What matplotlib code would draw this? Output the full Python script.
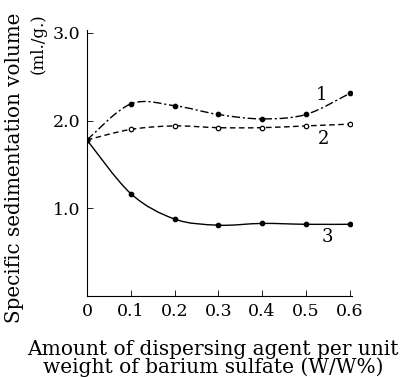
import numpy as np
import matplotlib
matplotlib.use("Agg")
import matplotlib.pyplot as plt
from matplotlib.path import Path
from matplotlib.patches import PathPatch

# values
amount = [0.0, 0.1, 0.2, 0.3, 0.4, 0.5, 0.6]
curve1 = [1.78, 2.19, 2.17, 2.07, 2.02, 2.07, 2.31]
curve2 = [1.78, 1.90, 1.94, 1.92, 1.92, 1.94, 1.96]
curve3 = [1.78, 1.17, 0.88, 0.81, 0.83, 0.82, 0.82]
curve_names = ["1", "2", "3"]
name_pos = [(0.535, 2.29), (0.54, 1.79), (0.55, 0.67)]
xticks = [0, 0.1, 0.2, 0.3, 0.4, 0.5, 0.6]
xticklabels = ["0", "0.1", "0.2", "0.3", "0.4", "0.5", "0.6"]
yticks = [1.0, 2.0, 3.0]
yticklabels = ["1.0", "2.0", "3.0"]


def smooth_path(xs, ys):
    # Catmull-Rom through the points, drawn as cubic bezier segments
    pts = np.column_stack([xs, ys])
    verts = [pts[0]]
    codes = [Path.MOVETO]
    n = len(pts)
    for i in range(n - 1):
        p0 = pts[max(i - 1, 0)]
        p1 = pts[i]
        p2 = pts[i + 1]
        p3 = pts[min(i + 2, n - 1)]
        c1 = p1 + (p2 - p0) / 6.0
        c2 = p2 - (p3 - p1) / 6.0
        verts += [c1, c2, p2]
        codes += [Path.CURVE4] * 3
    return Path(verts, codes)


plt.rcParams["font.family"] = "DejaVu Serif"
fig = plt.figure(figsize=(4.14, 3.77), dpi=100)
ax = fig.add_axes([0.210, 0.214, 0.640, 0.706])

styles = [((0, (6, 2, 1.5, 2)), "k", "k"),
          ((0, (4, 2.5)), "k", "white"),
          ("-", "k", "k")]
for ys, (ls, ec, fc) in zip([curve1, curve2, curve3], styles):
    patch = PathPatch(smooth_path(amount, ys), fill=False, lw=1.0,
                      ls=ls, ec="k")
    ax.add_patch(patch)
    ax.plot(amount, ys, ls="none", marker="o", ms=3.2, mec=ec, mfc=fc,
            mew=0.9)

for name, (tx, ty) in zip(curve_names, name_pos):
    ax.text(tx, ty, name, fontsize=13, ha="center", va="center")

ax.set_xlim(0, 0.605)
ax.set_ylim(0, 3.03)
ax.spines["top"].set_visible(False)
ax.spines["right"].set_visible(False)
ax.spines["left"].set_linewidth(0.8)
ax.spines["bottom"].set_linewidth(0.8)
ax.set_xticks(xticks)
ax.set_xticklabels(xticklabels)
ax.set_yticks(yticks)
ax.set_yticklabels(yticklabels)
ax.tick_params(direction="in", length=4, width=0.6, labelsize=12.5, pad=5)

fig.text(0.036, 0.966, "Specific sedimentation volume", rotation=90,
         ha="center", va="top", fontsize=14.3)
fig.text(0.092, 0.966, "(ml./g.)", rotation=90,
         ha="center", va="top", fontsize=12)
fig.text(0.514, 0.0, "Amount of dispersing agent per unit\n"
         "weight of barium sulfate (W/W%)", ha="center", va="bottom",
         fontsize=14.5, linespacing=0.9)

fig.savefig("out.png", dpi=100)
